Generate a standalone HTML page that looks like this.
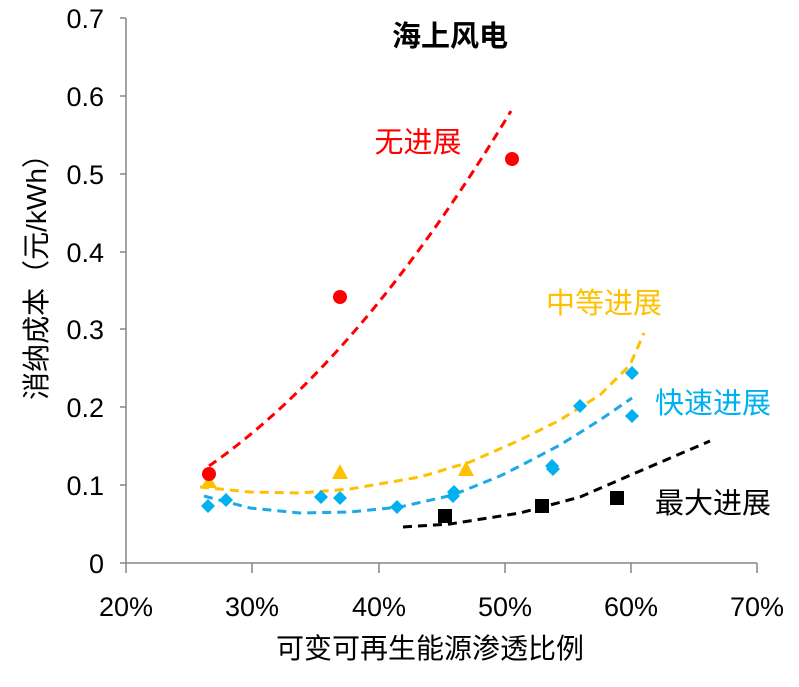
<!DOCTYPE html>
<html><head><meta charset="utf-8"><style>
body{margin:0;background:#fff}
text{font-family:"Liberation Sans","Noto Sans CJK SC",sans-serif}
</style></head><body>
<svg width="799" height="682" viewBox="0 0 799 682" xmlns="http://www.w3.org/2000/svg">
<g stroke="#868686" stroke-width="1.5" fill="none">
<line x1="126" y1="18" x2="126" y2="563"/>
<line x1="126" y1="563" x2="757" y2="563"/>
<line x1="120" y1="18" x2="126" y2="18"/><line x1="120" y1="96" x2="126" y2="96"/>
<line x1="120" y1="174" x2="126" y2="174"/><line x1="120" y1="252" x2="126" y2="252"/>
<line x1="120" y1="329" x2="126" y2="329"/><line x1="120" y1="407" x2="126" y2="407"/>
<line x1="120" y1="485" x2="126" y2="485"/><line x1="120" y1="563" x2="126" y2="563"/>
<line x1="126" y1="563" x2="126" y2="573"/><line x1="252" y1="563" x2="252" y2="573"/>
<line x1="379" y1="563" x2="379" y2="573"/><line x1="505" y1="563" x2="505" y2="573"/>
<line x1="631" y1="563" x2="631" y2="573"/><line x1="757" y1="563" x2="757" y2="573"/>
</g>
<g font-size="27" fill="#000" text-anchor="end">
<text x="104" y="28">0.7</text><text x="104" y="106">0.6</text><text x="104" y="184">0.5</text>
<text x="104" y="262">0.4</text><text x="104" y="339">0.3</text><text x="104" y="417">0.2</text>
<text x="104" y="495">0.1</text><text x="104" y="573">0</text>
</g>
<g font-size="27" fill="#000" text-anchor="middle">
<text x="126" y="616">20%</text><text x="252" y="616">30%</text><text x="379" y="616">40%</text>
<text x="505" y="616">50%</text><text x="631" y="616">60%</text><text x="757" y="616">70%</text>
</g>
<text x="430" y="658" font-size="28" text-anchor="middle">可变可再生能源渗透比例</text>
<text transform="translate(46,270) rotate(-90)" font-size="28" text-anchor="middle">消纳成本（元/kWh）</text>
<text x="450" y="46" font-size="29" font-weight="bold" text-anchor="middle">海上风电</text>
<g fill="none" stroke-width="3" stroke-dasharray="9,6">
<path d="M209,466 Q360,361 511,111" stroke="#FF0000"/>
<polyline stroke="#FFC000" points="200,487 250,492 300,493 350,489 420,477 470,462 520,440 560,420 600,395 630,365 644,333"/>
<polyline stroke="#1CA9E6" points="204,496 250,508 300,513 350,512 400,507 453,495 500,476 520,466 560,445 600,420 632,398"/>
<polyline stroke="#000" points="403,527 450,524 520,513 580,497 640,471 710,441"/>
</g>
<g fill="#FFC000">
<polygon points="209,474 201,488 217,488"/><polygon points="340,464 332,479 348,479"/><polygon points="466,461 458,476 474,476"/>
</g>
<g fill="#FF0000"><circle cx="209" cy="474" r="7"/><circle cx="340" cy="297" r="7"/><circle cx="512" cy="159" r="7"/></g>
<g fill="#00B0F0">
<path d="M208,499l7,7l-7,7l-7,-7z"/><path d="M226,493l7,7l-7,7l-7,-7z"/><path d="M321,490l7,7l-7,7l-7,-7z"/>
<path d="M340,491l7,7l-7,7l-7,-7z"/><path d="M397,500l7,7l-7,7l-7,-7z"/><path d="M453,489l7,7l-7,7l-7,-7z"/>
<path d="M454,485l7,7l-7,7l-7,-7z"/><path d="M552,459l7,7l-7,7l-7,-7z"/><path d="M553,462l7,7l-7,7l-7,-7z"/>
<path d="M580,399l7,7l-7,7l-7,-7z"/><path d="M632,366l7,7l-7,7l-7,-7z"/><path d="M632,409l7,7l-7,7l-7,-7z"/>
</g>
<g fill="#000"><rect x="438" y="509" width="14" height="14"/><rect x="535" y="499" width="14" height="14"/><rect x="610" y="491" width="14" height="14"/></g>
<g font-size="29" text-anchor="middle">
<text x="418" y="152" fill="#FF0000">无进展</text>
<text x="604" y="313" fill="#FFC000">中等进展</text>
<text x="713" y="413" fill="#00B0F0">快速进展</text>
<text x="713" y="513" fill="#000">最大进展</text>
</g>
</svg>
</body></html>
